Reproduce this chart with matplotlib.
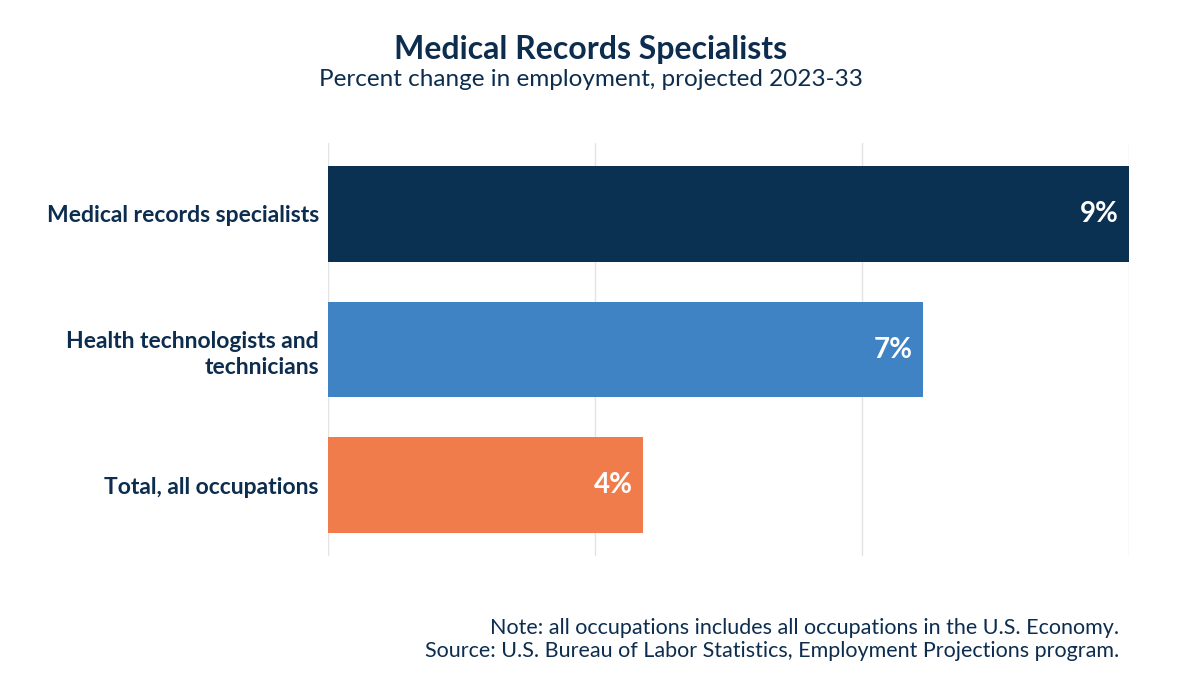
import matplotlib.pyplot as plt

categories = ["Medical records specialists", "Health technologists and\ntechnicians", "Total, all occupations"]
values = [9.0, 6.68, 3.54]
value_labels = ["9%", "7%", "4%"]
colors = ["#0a3052", "#3f83c5", "#f07c4c"]

navy = "#0d2d4f"
plt.rcParams['font.family'] = ['Lato', 'DejaVu Sans']

fig = plt.figure(figsize=(12, 6.88), dpi=100)
ax = fig.add_axes([328/1200, 1-556/688, 801/1200, 413/688])

ypos = list(range(len(categories)))
ax.barh(ypos, values, height=0.705, color=colors, zorder=3)
ax.set_xlim(0, 9)
ax.set_ylim(2.52, -0.52)
ax.set_xticks([0, 3, 6, 9])
ax.grid(axis='x', color='#e3e3e3', linewidth=1, zorder=0)
ax.tick_params(axis='x', length=0, labelbottom=False)
ax.tick_params(axis='y', length=0, pad=6.5)
ax.set_yticks(ypos)
ax.set_yticklabels(categories, fontsize=16.5, fontweight='bold', color=navy, linespacing=1.3)
for lab in ax.get_yticklabels():
    lab.set_multialignment('right')
for s in ax.spines.values():
    s.set_visible(False)

for y, v, t in zip(ypos, values, value_labels):
    ax.text(v - 0.11, y, t, color='white', fontsize=20, fontweight='bold',
            ha='right', va='center', zorder=4)

fig.text(0.4925, 1-50/688, "Medical Records Specialists", ha='center', va='center',
         fontsize=23, fontweight='bold', color=navy)
fig.text(0.4925, 1-80/688, "Percent change in employment, projected 2023-33", ha='center', va='center',
         fontsize=17.5, color=navy)
fig.text(1119/1200, 1-628/688, "Note: all occupations includes all occupations in the U.S. Economy.",
         ha='right', va='center', fontsize=15.5, color=navy)
fig.text(1119/1200, 1-651/688, "Source: U.S. Bureau of Labor Statistics, Employment Projections program.",
         ha='right', va='center', fontsize=15.5, color=navy)

fig.savefig("out.png", dpi=100, facecolor='white')
